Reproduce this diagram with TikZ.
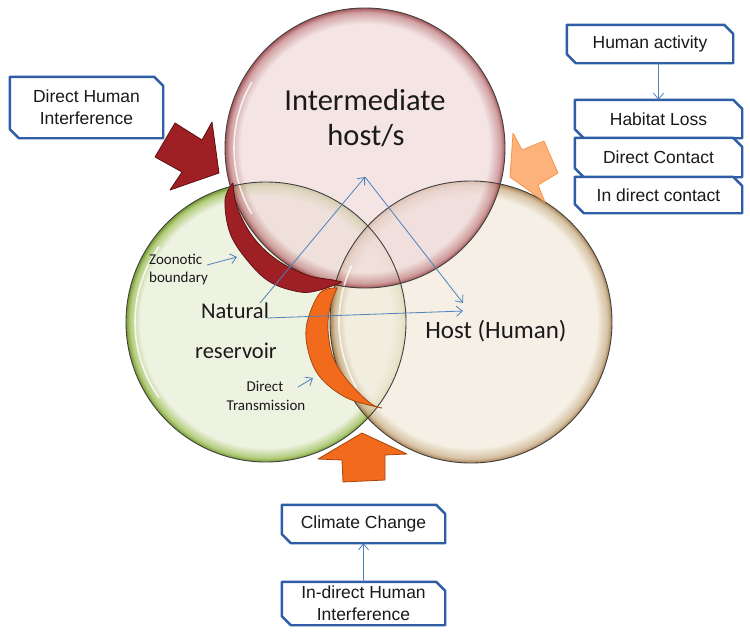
\documentclass[tikz,border=0pt]{standalone}
\usepackage{fontspec}
\setmainfont{Carlito}
\newfontfamily\boxfont{Liberation Sans}
\usetikzlibrary{arrows.meta,calc}

\definecolor{pinkin}{HTML}{F0DADA}
\definecolor{pinkmid}{HTML}{C07E81}
\definecolor{pinkrim}{HTML}{85181E}
\definecolor{grin}{HTML}{EAF0DC}
\definecolor{grmid}{HTML}{A6C465}
\definecolor{grrim}{HTML}{5E8A10}
\definecolor{tanin}{HTML}{F3ECDF}
\definecolor{tanmid}{HTML}{CDB48E}
\definecolor{tanrim}{HTML}{93652E}
\definecolor{boxblue}{HTML}{2F5DA6}
\definecolor{lineblue}{HTML}{4F81BD}
\definecolor{darkred}{HTML}{9E2024}
\definecolor{darkredline}{HTML}{5E1012}
\definecolor{orangef}{HTML}{F26B1D}
\definecolor{orangeline}{HTML}{A8450F}
\definecolor{lightor}{HTML}{FDB27C}
\definecolor{lightorline}{HTML}{F79646}
\definecolor{txt}{HTML}{1A1A1A}

\pgfdeclareradialshading{pinkball}{\pgfpoint{0bp}{0bp}}{color(0bp)=(pinkin); color(22.2bp)=(pinkin); color(24.2bp)=(pinkmid); color(25bp)=(pinkrim); color(50bp)=(pinkrim)}
\pgfdeclareradialshading{greenball}{\pgfpoint{0bp}{0bp}}{color(0bp)=(grin); color(22.5bp)=(grin); color(24.3bp)=(grmid); color(25bp)=(grrim); color(50bp)=(grrim)}
\pgfdeclareradialshading{tanball}{\pgfpoint{0bp}{0bp}}{color(0bp)=(tanin); color(22.3bp)=(tanin); color(24.2bp)=(tanmid); color(25bp)=(tanrim); color(50bp)=(tanrim)}

\newcommand\snipframe[1]{\draw[boxline] (#1.north west) -- ($(#1.north east)+(-9,0)$) -- ($(#1.north east)+(0,9)$) -- (#1.south east) -- ($(#1.south west)+(9,0)$) -- ($(#1.south west)+(0,-9)$) -- cycle;}

\begin{document}
\begin{tikzpicture}[x=1pt,y=-1pt,
  boxline/.style={draw=boxblue, line width=2.4pt, line join=round, fill=white},
  boxtext/.style={inner sep=0pt, align=center, font=\boxfont\fontsize{17.5}{22}\selectfont, text=txt},
  thinarrow/.style={draw=lineblue, line width=0.8pt, -{Straight Barb[length=6pt,width=10pt,line width=0.8pt]}},
  rimline/.style={draw=black!75, line width=0.9pt},
  gloss/.style={draw=white, line width=1.6pt, opacity=0.8, line cap=round},
  lbl/.style={inner sep=0pt, text=txt, anchor=base}
]
\useasboundingbox (0,0) rectangle (750,632);
\fill[white] (0,0) rectangle (750,632);

% circles
\shade[shading=greenball, fill opacity=0.85] (266,322) circle[radius=140];
\shade[shading=tanball, fill opacity=0.8] (471,322) circle[radius=141];
\shade[shading=pinkball, fill opacity=0.72] (365,148) circle[radius=140];
\draw[gloss] (266,322) ++(145:131) arc[start angle=145, end angle=215, radius=131];
\draw[gloss] (471,322) ++(150:132) arc[start angle=150, end angle=205, radius=132];
\draw[gloss] (365,148) ++(150:131) arc[start angle=150, end angle=210, radius=131];
\draw[rimline] (266,322) circle[radius=140];
\draw[rimline] (471,322) circle[radius=141];
\draw[rimline] (365,148) circle[radius=140];

% crescents
\filldraw[fill=darkred, draw=darkredline, line width=0.8pt, line join=round]
  plot[smooth, tension=0.6] coordinates {(233,183) (225,200) (230,233) (247,260) (270,282) (300,292) (320,290) (342,282)}
  -- plot[smooth, tension=0.6] coordinates {(342,282) (333,280) (307,275) (277,260) (253,237) (237,207) (233,183)} -- cycle;
\filldraw[fill=orangef, draw=orangeline, line width=0.8pt, line join=round]
  plot[smooth, tension=0.6] coordinates {(337,288) (320,293) (307,323) (308,350) (320,377) (347,398) (382,408)}
  -- plot[smooth, tension=0.6] coordinates {(382,408) (370,403) (347,380) (333,357) (328,330) (330,307) (337,288)} -- cycle;

% block arrows
\filldraw[fill=darkred, draw=darkredline, line width=0.8pt, line join=round]
  (175,123) -- (202,140) -- (212,122) -- (219,173) -- (170,190) -- (182,172) -- (155,157) -- cycle;
\filldraw[fill=lightor, draw=lightorline, line width=0.8pt, line join=round]
  (513,133) -- (522,150) -- (544,141) -- (558,173) -- (538,185) -- (545,202) -- (510,177) -- cycle;
\filldraw[fill=orangef, draw=orangeline, line width=0.8pt, line join=round]
  (362,433) -- (407,454) -- (385,455) -- (385,480) -- (343,482) -- (342,460) -- (318,459) -- cycle;

% texts in circles
\node[lbl, font=\fontsize{30.5}{35}\selectfont] (inter) at (365,110) {Intermediate};
\node[lbl, font=\fontsize{30.5}{35}\selectfont] (hosts) at (366,145) {host/s};
\node[lbl, font=\fontsize{22.5}{26}\selectfont] (natural) at (235,318) {Natural};
\node[lbl, font=\fontsize{22.5}{26}\selectfont] (reservoir) at (236,358) {reservoir};
\node[lbl, font=\fontsize{25}{28}\selectfont] (host) at (496,338) {Host (Human)};
\node[lbl, anchor=base west, font=\fontsize{15}{18}\selectfont] (zoo) at (149,264) {Zoonotic};
\node[lbl, anchor=base west, font=\fontsize{15}{18}\selectfont] (bound) at (149,282) {boundary};
\node[lbl, font=\fontsize{15}{18}\selectfont] (direct) at (265,391) {Direct};
\node[lbl, font=\fontsize{15}{18}\selectfont] (trans) at (266,410) {Transmission};

% thin arrows
\coordinate (apex) at (365,177);
\coordinate (natA) at (260,303);
\coordinate (natB) at (267,318);
\coordinate (hostA) at (463,303);
\coordinate (hostB) at (463,311);
\draw[thinarrow] (natA) -- (apex);
\draw[thinarrow] (apex) -- (hostA);
\draw[thinarrow] (natB) -- (hostB);
\coordinate (zbA) at (207,265);
\coordinate (zbB) at (237,257);
\coordinate (dtA) at (298,387);
\coordinate (dtB) at (313,378);
\draw[thinarrow] (zbA) -- (zbB);
\draw[thinarrow] (dtA) -- (dtB);

% boxes
\node[minimum width=153pt, minimum height=61pt, inner sep=0pt] (dhi) at (86.5,107.5) {};
\snipframe{dhi}
\node[boxtext] at (dhi) {Direct Human\\Interference};

\node[minimum width=166pt, minimum height=38pt, inner sep=0pt] (act) at (650,44) {};
\snipframe{act}
\node[boxtext] at (act) {Human activity};

\node[minimum width=167pt, minimum height=38pt, inner sep=0pt] (hab) at (658.5,119) {};
\node[minimum width=167pt, minimum height=39pt, inner sep=0pt] (dc) at (658.5,157.5) {};
\node[minimum width=167pt, minimum height=36pt, inner sep=0pt] (idc) at (658.5,195) {};
\snipframe{hab}
\snipframe{dc}
\snipframe{idc}
\node[boxtext] at (hab) {Habitat Loss};
\node[boxtext] at (dc) {Direct Contact};
\node[boxtext] at (idc) {In direct contact};

\node[minimum width=163pt, minimum height=38pt, inner sep=0pt] (cc) at (363.5,524) {};
\snipframe{cc}
\node[boxtext] at (cc) {Climate Change};
\node[minimum width=163pt, minimum height=43pt, inner sep=0pt] (ihi) at (363.5,603.5) {};
\snipframe{ihi}
\node[boxtext] at (ihi) {In-direct Human\\Interference};

\draw[thinarrow] (act.south -| hab.north) -- (hab.north);
\draw[thinarrow] (ihi.north) -- (cc.south);
\end{tikzpicture}
\end{document}
